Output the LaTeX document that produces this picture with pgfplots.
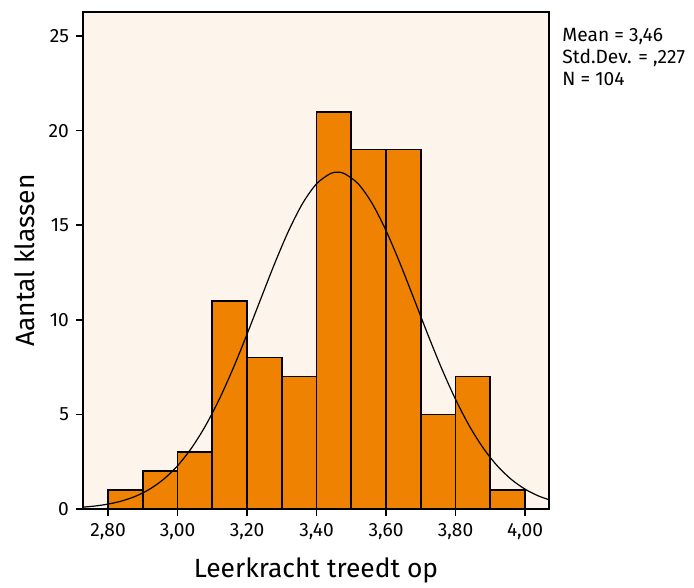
\documentclass[border=0pt]{standalone}
\usepackage{fontspec}
\setmainfont{Fira Sans}
\usepackage{pgfplots}
\pgfplotsset{compat=1.18}
\usetikzlibrary{calc}
\definecolor{bgcream}{HTML}{FDF5EB}
\definecolor{barorange}{HTML}{EF8200}
\begin{document}
\begin{tikzpicture}
\begin{axis}[
  name=ax,
  scale only axis,
  width=233pt, height=248.5pt,
  xmin=2.728, xmax=4.069,
  ymin=0, ymax=26.27,
  axis background/.style={fill=bgcream},
  axis line style={line width=0.8pt},
  tick style={line width=0.8pt, black},
  tick align=outside,
  tick pos=left,
  major tick length=3.5pt,
  xtick={2.8,3.0,3.2,3.4,3.6,3.8,4.0},
  ytick={0,5,10,15,20,25},
  /pgf/number format/assume math mode=true,
  xticklabel style={/pgf/number format/.cd, fixed, fixed zerofill, precision=2, use comma},
  ticklabel style={font=\fontsize{9.6}{11}\selectfont},
  xlabel={Leerkracht treedt op},
  ylabel={Aantal klassen},
  label style={font=\fontsize{13.2}{15}\selectfont},
  xlabel style={at={(axis description cs:0.5,-0.1227)}, anchor=center},
  ylabel style={at={(axis description cs:-0.1245,0.5)}, anchor=center},
]
\addplot[ybar interval, fill=barorange, draw=black, line width=0.8pt] coordinates {
  (2.8,1) (2.9,2) (3.0,3) (3.1,11) (3.2,8) (3.3,7) (3.4,21) (3.5,19) (3.6,19) (3.7,5) (3.8,7) (3.9,1) (4.0,1)
};
\addplot[smooth, black, line width=0.6pt] coordinates {
  (2.72,0.088) (2.76,0.153) (2.80,0.260) (2.84,0.427) (2.88,0.680) (2.92,1.051)
  (2.96,1.574) (3.00,2.284) (3.04,3.215) (3.08,4.384) (3.12,5.798) (3.16,7.433)
  (3.20,9.238) (3.24,11.129) (3.28,12.998) (3.32,14.717) (3.36,16.154) (3.40,17.189)
  (3.44,17.731) (3.46,17.8) (3.48,17.731) (3.52,17.189) (3.56,16.154) (3.60,14.717)
  (3.64,12.998) (3.68,11.129) (3.72,9.238) (3.76,7.433) (3.80,5.798) (3.84,4.384)
  (3.88,3.215) (3.92,2.284) (3.96,1.574) (4.00,1.051) (4.04,0.680) (4.08,0.427)
};
\end{axis}
\node[anchor=north west, align=left, inner sep=0pt, font=\fontsize{9.6}{11}\selectfont]
  at ($(ax.north east)+(6.5pt,-8pt)$) {Mean = 3,46\\Std.Dev. = ,227\\N = 104};
\pgfresetboundingbox
\useasboundingbox ($(ax.south west)+(-41.5pt,-39pt)$) rectangle ($(ax.north east)+(72.5pt,6pt)$);
\end{tikzpicture}
\end{document}
